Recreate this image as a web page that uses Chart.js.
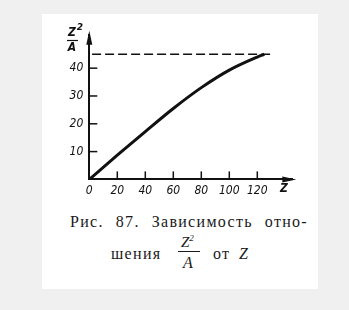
<!DOCTYPE html>
<html>
<head>
<meta charset="utf-8">
<script src="https://cdn.jsdelivr.net/npm/chart.js@4"></script>
<style>
  html, body { margin: 0; padding: 0; }
  body { width: 349px; height: 310px; background: #f0f0f0; position: relative; overflow: hidden; }
  #panel { position: absolute; left: 42px; top: 14px; width: 276px; height: 275px; background: #fff; }
  #wrap { position: absolute; left: 0; top: 0; width: 349px; height: 200px; }
  .cap { position: absolute; font-family: "Liberation Serif", serif; font-size: 16px; color: #1a1a1a; white-space: nowrap; letter-spacing: 1.3px; }
  #line1 { left: 70px; top: 213px; width: 238px; text-align: justify; text-align-last: justify; }
  .it { font-style: italic; letter-spacing: 0; }
</style>
</head>
<body>
<div id="panel"></div>
<div id="wrap"><canvas id="chart" width="349" height="200"></canvas></div>
<div class="cap" id="line1">Рис. 87. Зависимость отно-</div>
<div class="cap" style="left:111px; top:245px;">шения</div>
<div class="cap it" style="left:181px; top:233px; font-size:15px;">Z<sup style="font-size:9px;">2</sup></div>
<div style="position:absolute; left:178px; top:251px; width:22px; height:1px; background:#1a1a1a;"></div>
<div class="cap it" style="left:183px; top:254px;">A</div>
<div class="cap" style="left:213px; top:245px;">от</div>
<div class="cap it" style="left:239px; top:245px;">Z</div>
<script>
document.addEventListener("DOMContentLoaded", function () {
  // values
  var zValues = [0, 20, 40, 60, 80, 100, 120, 125];
  var ratioValues = [0, 8.7, 17.2, 25.5, 33.0, 39.3, 44, 45];
  var limitZ = [2, 130];
  var limitRatio = [45, 45];
  var xTicks = [0, 20, 40, 60, 80, 100, 120];
  var yTicks = [10, 20, 30, 40];

  var ink = "#111";
  var tickFont = { family: "'DejaVu Sans Condensed', 'DejaVu Sans', sans-serif", size: 12, style: "italic" };

  // inward tick marks, arrows and axis names
  var axisDecor = {
    id: "axisDecor",
    afterDraw: function (chart) {
      var ctx = chart.ctx;
      var xs = chart.scales.x, ys = chart.scales.y;
      var x0 = xs.getPixelForValue(0), y0 = ys.getPixelForValue(0);
      ctx.save();
      ctx.strokeStyle = ink;
      ctx.fillStyle = ink;
      ctx.lineWidth = 1.5;
      xTicks.forEach(function (v) {
        if (v === 0) return;
        var px = xs.getPixelForValue(v);
        ctx.beginPath(); ctx.moveTo(px, y0); ctx.lineTo(px, y0 - 8); ctx.stroke();
      });
      yTicks.forEach(function (v) {
        var py = ys.getPixelForValue(v);
        ctx.beginPath(); ctx.moveTo(x0, py); ctx.lineTo(x0 + 8, py); ctx.stroke();
      });
      // arrow heads
      var top = chart.chartArea.top, right = chart.chartArea.right;
      ctx.beginPath();
      ctx.moveTo(x0, top - 4); ctx.lineTo(x0 - 3, top + 10); ctx.lineTo(x0 + 3, top + 10); ctx.closePath(); ctx.fill();
      ctx.beginPath();
      ctx.moveTo(right + 4, y0); ctx.lineTo(right - 10, y0 - 3); ctx.lineTo(right - 10, y0 + 3); ctx.closePath(); ctx.fill();
      // axis names
      ctx.font = "italic bold 12px 'DejaVu Sans Condensed', 'DejaVu Sans', sans-serif";
      ctx.textAlign = "center";
      ctx.textBaseline = "middle";
      ctx.fillText("Z", 72, 33);
      ctx.fillText("A", 72, 48);
      ctx.font = "italic bold 9px 'DejaVu Sans', sans-serif";
      ctx.fillText("2", 80, 28);
      ctx.lineWidth = 1.2;
      ctx.beginPath(); ctx.moveTo(67, 40.5); ctx.lineTo(78, 40.5); ctx.stroke();
      ctx.font = "italic bold 12px 'DejaVu Sans Condensed', 'DejaVu Sans', sans-serif";
      ctx.fillText("Z", 284, 189);
      ctx.restore();
    }
  };

  var ctx = document.getElementById("chart").getContext("2d");
  var ratioChart = new Chart(ctx, {
    type: "line",
    data: {
      datasets: [
        {
          label: "Z2/A",
          data: zValues.map(function (z, i) { return { x: z, y: ratioValues[i] }; }),
          borderColor: ink,
          borderWidth: 3,
          pointRadius: 0,
          cubicInterpolationMode: "monotone",
          fill: false,
        },
        {
          label: "limit",
          data: limitZ.map(function (z, i) { return { x: z, y: limitRatio[i] }; }),
          borderColor: ink,
          borderWidth: 1.5,
          borderDash: [9, 4],
          pointRadius: 0,
          fill: false,
        },
      ],
    },
    options: {
      responsive: false,
      animation: false,
      layout: { padding: { left: 49.3, right: 56.7, top: 34.8, bottom: 0.6 } },
      plugins: { legend: { display: false }, tooltip: { enabled: false } },
      scales: {
        x: {
          type: "linear",
          min: 0,
          max: 145,
          afterBuildTicks: function (scale) {
            scale.ticks = xTicks.map(function (v) { return { value: v }; });
          },
          afterFit: function (scale) { scale.height = 20; },
          grid: { display: false, drawTicks: false },
          border: { display: true, color: ink, width: 2 },
          ticks: { color: ink, font: tickFont, padding: 4, maxRotation: 0 },
        },
        y: {
          type: "linear",
          min: 0,
          max: 52,
          afterBuildTicks: function (scale) {
            scale.ticks = yTicks.map(function (v) { return { value: v }; });
          },
          afterFit: function (scale) { scale.width = 40; },
          grid: { display: false, drawTicks: false },
          border: { display: true, color: ink, width: 2 },
          ticks: { color: ink, font: tickFont, padding: 6 },
        },
      },
    },
    plugins: [axisDecor],
  });
});
</script>
</body>
</html>
